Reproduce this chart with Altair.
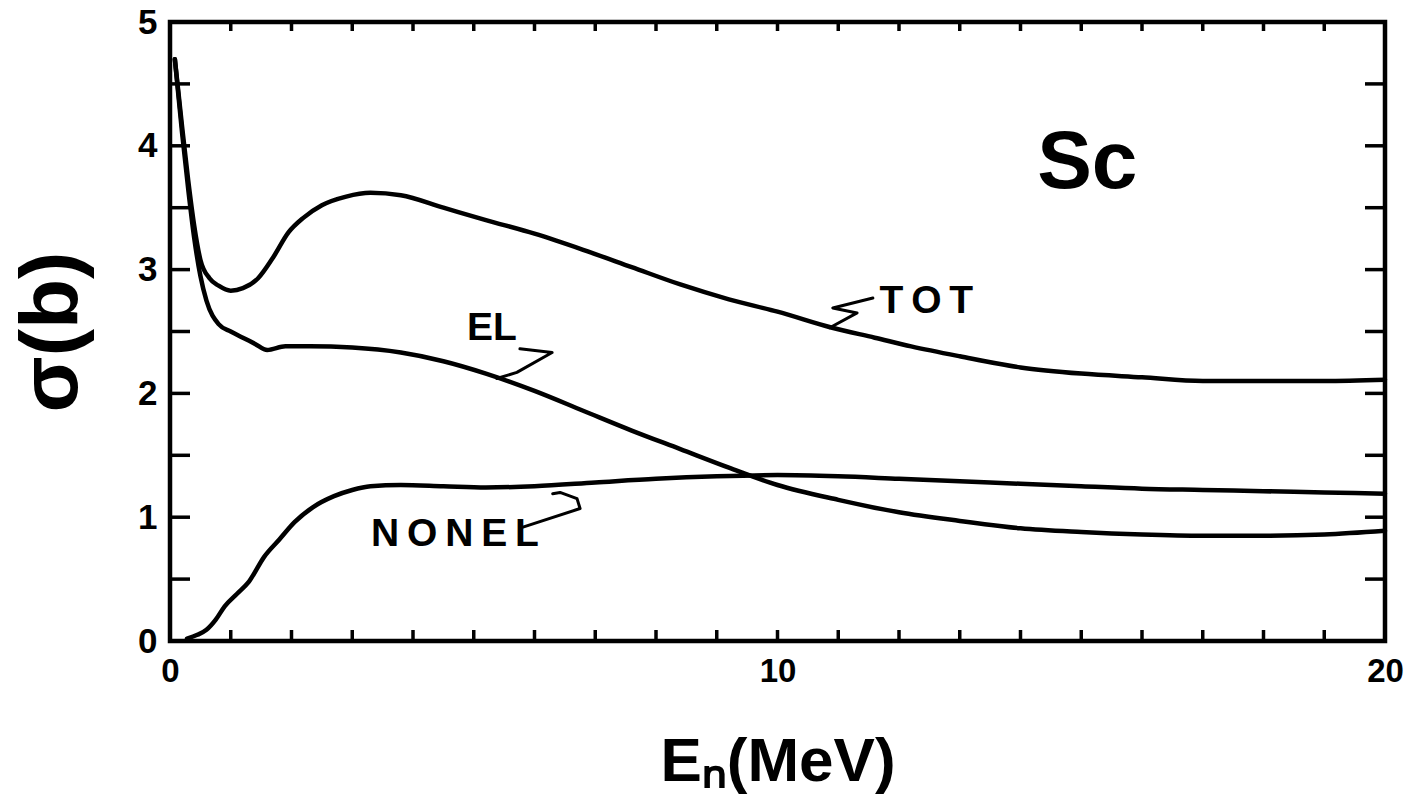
import altair as alt
import pandas as pd

# ---- data ----
E_TOT = [0.08, 0.2, 0.3, 0.4, 0.5, 0.65, 0.8, 1.0, 1.2, 1.45, 1.7, 1.95, 2.2, 2.5, 2.9, 3.3, 3.8,
         4.5, 5.2, 6.0, 6.8, 7.6, 8.4, 9.2, 10.0, 10.9, 11.6, 12.2, 13.0, 14.0, 15.0, 16.0, 17.0,
         18.0, 19.0, 20.0]
S_TOT = [4.70, 4.15, 3.72, 3.35, 3.08, 2.93, 2.87, 2.83, 2.85, 2.93, 3.10, 3.30, 3.42, 3.52, 3.59,
         3.62, 3.60, 3.50, 3.40, 3.29, 3.16, 3.02, 2.88, 2.76, 2.66, 2.53, 2.45, 2.38, 2.30, 2.21,
         2.16, 2.13, 2.10, 2.10, 2.10, 2.11]

E_EL = [0.08, 0.2, 0.3, 0.4, 0.5, 0.6, 0.8, 1.0, 1.2, 1.4, 1.6, 1.9, 2.3, 3.0, 3.8, 4.5, 5.2, 6.0,
        6.8, 7.6, 8.4, 9.2, 10.0, 11.0, 12.0, 13.0, 14.0, 15.0, 16.0, 17.0, 18.0, 19.0, 20.0]
S_EL = [4.70, 4.10, 3.65, 3.25, 2.95, 2.75, 2.56, 2.50, 2.45, 2.40, 2.35, 2.38, 2.38, 2.37, 2.33,
        2.26, 2.16, 2.02, 1.86, 1.70, 1.55, 1.40, 1.26, 1.14, 1.04, 0.97, 0.91, 0.88, 0.86, 0.85,
        0.85, 0.86, 0.89]

E_NONEL = [0.28, 0.45, 0.6, 0.75, 0.9, 1.1, 1.3, 1.55, 1.8, 2.05, 2.35, 2.7, 3.0, 3.3, 3.8, 4.5,
           5.2, 6.0, 7.0, 8.0, 9.0, 10.0, 11.0, 12.0, 13.0, 14.0, 15.0, 16.0, 17.0, 18.0, 19.0, 20.0]
S_NONEL = [0.02, 0.05, 0.09, 0.17, 0.28, 0.38, 0.48, 0.68, 0.82, 0.96, 1.08, 1.17, 1.22, 1.25,
           1.26, 1.25, 1.24, 1.25, 1.28, 1.31, 1.33, 1.34, 1.33, 1.31, 1.29, 1.27, 1.25, 1.23,
           1.22, 1.21, 1.20, 1.19]

# curve labels and their leader lines (data coordinates)
LABELS = ["T\u2009O\u2009T", "EL", "N\u2009O\u2009N\u2009E\u2009L"]
LABEL_E = [12.45, 5.3, 4.69]
LABEL_S = [2.65, 2.43, 0.77]

LEAD_TOT_E = [11.57, 10.91, 11.31, 10.86]
LEAD_TOT_S = [2.77, 2.69, 2.65, 2.53]
LEAD_EL_E = [5.76, 6.29, 5.71, 5.38]
LEAD_EL_S = [2.36, 2.33, 2.17, 2.12]
LEAD_NONEL_E = [5.81, 6.75, 6.70, 6.42, 6.30]
LEAD_NONEL_S = [0.92, 1.07, 1.15, 1.20, 1.19]

ELEMENT = "Sc"
ELEMENT_E = [15.1]
ELEMENT_S = [3.66]

X_TICKS = list(range(0, 21))
Y_TICKS = [0, 0.5, 1, 1.5, 2, 2.5, 3, 3.5, 4, 4.5, 5]
X_LABELS = [0, 10, 20]
Y_LABELS = [0, 1, 2, 3, 4, 5]

# ---- tables ----
def table(name, es, ss):
    return pd.DataFrame({"E": es, "sigma": ss, "curve": name, "idx": range(len(es))})

curves_df = pd.concat([table("TOT", E_TOT, S_TOT), table("EL", E_EL, S_EL),
                       table("NONEL", E_NONEL, S_NONEL)])
leads_df = pd.concat([table("TOT", LEAD_TOT_E, LEAD_TOT_S), table("EL", LEAD_EL_E, LEAD_EL_S),
                      table("NONEL", LEAD_NONEL_E, LEAD_NONEL_S)])
labels_df = pd.DataFrame({"E": LABEL_E, "sigma": LABEL_S, "text": LABELS})
element_df = pd.DataFrame({"E": ELEMENT_E, "sigma": ELEMENT_S, "text": [ELEMENT]})
xt_df = pd.DataFrame({"E": X_TICKS})
yt_df = pd.DataFrame({"sigma": Y_TICKS})

W, H = 1215, 619
FONT = "Liberation Sans"

xs = alt.Scale(domain=[0, 20], nice=False, zero=False)
ys = alt.Scale(domain=[0, 5], nice=False, zero=False)

xaxis = alt.Axis(values=X_LABELS, ticks=False, domain=False, grid=False, labelPadding=14,
                 labelFontSize=33, labelFont=FONT, labelFontWeight="bold", labelColor="black",
                 labelFlush=False, format="d",
                 title="E\u2099(MeV)", titleFont=FONT, titleFontSize=62, titleFontWeight="bold",
                 titleColor="black", titleBaseline="alphabetic", titleY=139)
yaxis = alt.Axis(values=Y_LABELS, ticks=False, domain=False, grid=False, labelPadding=13,
                 labelFontSize=35, labelFont=FONT, labelFontWeight="bold", labelColor="black",
                 labelFlush=False, format="d",
                 title="\u03c3(b)", titleFont=FONT, titleFontSize=82, titleFontWeight="bold",
                 titleColor="black", titleBaseline="alphabetic", titleX=-94)

X = alt.X("E:Q", scale=xs, axis=xaxis)
Y = alt.Y("sigma:Q", scale=ys, axis=yaxis)

curves = alt.Chart(curves_df).mark_line(
    color="black", strokeWidth=4.5, strokeJoin="round", strokeCap="round", interpolate="monotone"
).encode(x=X, y=Y, detail="curve:N", order="idx:Q")

leads = alt.Chart(leads_df).mark_line(
    color="black", strokeWidth=3, strokeJoin="round", strokeCap="round"
).encode(x=X, y=Y, detail="curve:N", order="idx:Q")

labels = alt.Chart(labels_df).mark_text(
    font=FONT, fontSize=39, fontWeight="bold", color="black", align="center", baseline="alphabetic"
).encode(x=X, y=Y, text="text:N")

element = alt.Chart(element_df).mark_text(
    font=FONT, fontSize=82, fontWeight="bold", color="black", align="center", baseline="alphabetic"
).encode(x=X, y=Y, text="text:N")

xt_bottom = alt.Chart(xt_df).mark_rule(color="black", strokeWidth=3.5).encode(
    x=X, y=alt.value(H), y2=alt.value(H - 11))
xt_top = alt.Chart(xt_df).mark_rule(color="black", strokeWidth=3.5).encode(
    x=X, y=alt.value(0), y2=alt.value(9))
yt_left = alt.Chart(yt_df).mark_rule(color="black", strokeWidth=3.5).encode(
    y=Y, x=alt.value(0), x2=alt.value(20))
yt_right = alt.Chart(yt_df).mark_rule(color="black", strokeWidth=3.5).encode(
    y=Y, x=alt.value(W), x2=alt.value(W - 20))

chart = alt.layer(
    curves, leads, labels, element, xt_bottom, xt_top, yt_left, yt_right
).properties(
    width=W, height=H,
    autosize=alt.AutoSizeParams(type="none"),
    padding={"left": 170, "top": 22, "right": 22, "bottom": 161},
    background="white",
).configure_view(stroke="black", strokeWidth=4.5)

chart.save("out.html", embed_options={"renderer": "svg", "actions": False})
